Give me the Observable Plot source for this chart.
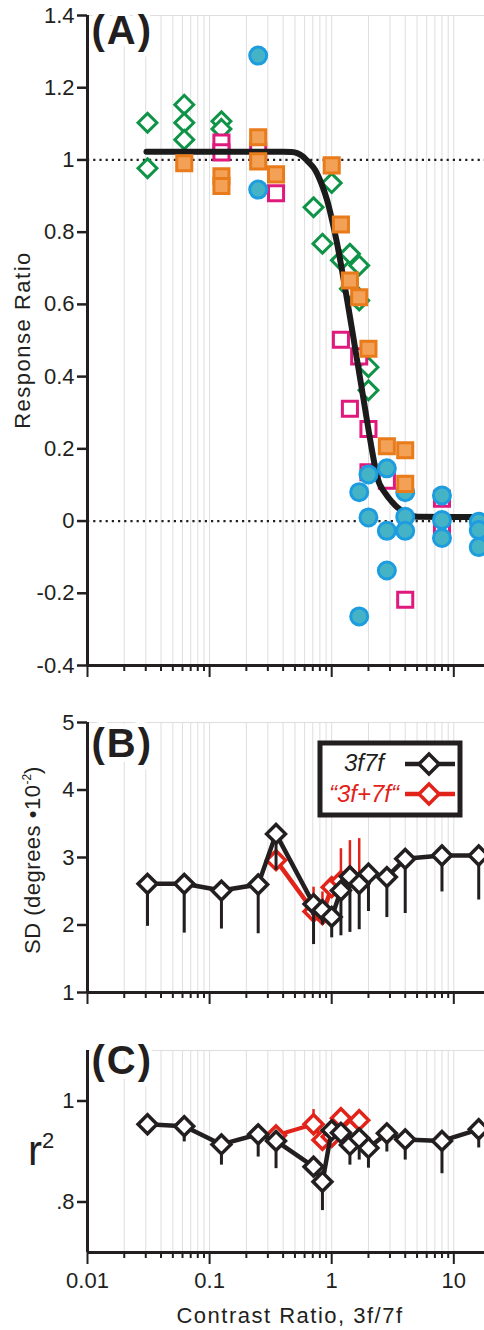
<!DOCTYPE html>
<html>
<head>
<meta charset="utf-8">
<script src="https://cdn.jsdelivr.net/npm/d3@7"></script>
<script src="https://cdn.jsdelivr.net/npm/@observablehq/plot@0.6"></script>
<style>
  body { margin: 0; background: #fff; }
  #wrap { position: relative; width: 484px; height: 1330px; overflow: hidden; background: #fff;
          font-family: "Liberation Sans", Arial, Helvetica, sans-serif; color: #231f20; }
  .panel { position: absolute; left: 0; }
  .panel svg { overflow: visible; }
  .panel g[font-size="40"] text { letter-spacing: 2px; }
  .lab { position: absolute; white-space: nowrap; font-size: 22px; letter-spacing: 1.5px; line-height: 1; }
  .rot { transform: translate(-50%, -50%) rotate(-90deg); }
  .sup { position: relative; letter-spacing: 0; }
</style>
</head>
<body>
<div id="wrap"></div>
<script>
// ---------------- Data ----------------
// Shared x-axis ticks (log scale)
const majorX = [0.01, 0.1, 1, 10];
const majorXLabels = ["0.01", "0.1", "1", "10"];
const minorX = [0.02,0.03,0.04,0.05,0.06,0.07,0.08,0.09,0.2,0.3,0.4,0.5,0.6,0.7,0.8,0.9,2,3,4,5,6,7,8,9];

// Panel A: response ratio
const yTicksA = [-0.4, -0.2, 0, 0.2, 0.4, 0.6, 0.8, 1, 1.2, 1.4];
const yLabelsA = ["-0.4", "-0.2", "0", "0.2", "0.4", "0.6", "0.8", "1", "1.2", "1.4"];
const refLinesA = [1, 0];

const greenX = [0.031, 0.031, 0.062, 0.062, 0.062, 0.125, 0.125, 0.71, 0.84, 1, 1.19, 1.41, 1.41, 1.68, 1.68, 2, 2];
const greenY = [1.103, 0.977, 1.153, 1.103, 1.056, 1.107, 1.086, 0.869, 0.768, 0.936, 0.722, 0.740, 0.643, 0.708, 0.611, 0.426, 0.362];

const orangeX = [0.062, 0.125, 0.125, 0.25, 0.25, 0.35, 1, 1.19, 1.41, 1.68, 2, 2.83, 4, 4];
const orangeY = [0.991, 0.955, 0.928, 1.063, 0.996, 0.960, 0.985, 0.821, 0.666, 0.620, 0.477, 0.207, 0.196, 0.103];

const magentaX = [0.125, 0.125, 0.25, 0.35, 1.19, 1.41, 1.68, 2, 2, 2.83, 4, 8, 8];
const magentaY = [1.048, 1.021, 1.025, 0.908, 0.502, 0.311, 0.456, 0.255, 0.135, 0.112, -0.218, 0.062, -0.016];

const blueX = [0.25, 0.25, 1.68, 1.68, 2, 2, 2.83, 2.83, 2.83, 4, 4, 4, 8, 8, 8, 16, 16, 16];
const blueY = [1.289, 0.918, 0.080, -0.264, 0.129, 0.010, 0.146, -0.027, -0.137, 0.080, 0.012, -0.027, 0.071, 0.003, -0.047, -0.002, -0.025, -0.072];

// fitted curve, points
const fitX = [0.0304, 0.40, 0.47, 0.521, 0.58, 0.629, 0.736, 0.836, 0.918, 1.009, 1.094, 1.34, 1.567, 1.83, 2.14, 2.36, 2.76, 3.1, 3.44, 4.15, 5.01, 15.9];
const fitY = [1.023, 1.023, 1.022, 1.019, 1.010, 0.998, 0.971, 0.929, 0.888, 0.832, 0.777, 0.611, 0.472, 0.334, 0.195, 0.121, 0.076, 0.054, 0.038, 0.020, 0.012, 0.011];

// Panel B: SD
const yTicksB = [1, 2, 3, 4, 5];
const yLabelsB = ["1", "2", "3", "4", "5"];
const bX   = [0.031, 0.062, 0.125, 0.25, 0.35, 0.71, 0.84, 1, 1.19, 1.41, 1.68, 2, 2.83, 4, 8, 16];
const bY   = [2.61, 2.61, 2.51, 2.60, 3.35, 2.31, 2.22, 2.12, 2.51, 2.72, 2.61, 2.76, 2.71, 2.98, 3.03, 3.03];
const bLo  = [1.98, 1.88, 1.94, 1.87, 2.81, 1.71, 2.0, 1.81, 1.84, 1.89, 1.93, 2.20, 2.11, 2.17, 2.49, 2.37];
const bRedX  = [0.35, 0.71, 0.84, 1, 1.19, 1.41, 1.68];
const bRedY  = [2.96, 2.20, 2.16, 2.56, 2.65, 2.72, 2.62];
const bRedHi = [3.0, 2.56, 2.49, 2.7, 3.13, 3.25, 3.28];

// Panel C: r^2
const yTicksC = [0.8, 1];
const yLabelsC = [".8", "1"];
const cY   = [0.954, 0.950, 0.914, 0.934, 0.921, 0.870, 0.840, 0.942, 0.937, 0.913, 0.926, 0.907, 0.936, 0.924, 0.921, 0.944];
const cLo  = [0.950, 0.919, 0.873, 0.889, 0.866, 0.850, 0.783, 0.930, 0.925, 0.873, 0.883, 0.867, 0.899, 0.883, 0.856, 0.907];
const cRedX  = [0.35, 0.71, 0.84, 1, 1.19, 1.41, 1.68];
const cRedY  = [0.932, 0.954, 0.923, 0.929, 0.966, 0.942, 0.962];
const cRedHi = [0.940, 0.983, 0.930, 0.935, 0.975, 0.950, 0.970];

// ---------------- Build ----------------
const INK = "#231f20";
const RED = "#e2231a";
const FONT = '"Liberation Sans", Arial, Helvetica, sans-serif';
const zip = (xs, ys, extra) => xs.map((x, i) => ({x, y: ys[i], e: extra ? extra[i] : undefined}));

const green = zip(greenX, greenY), orange = zip(orangeX, orangeY), magenta = zip(magentaX, magentaY), blue = zip(blueX, blueY);
const fit = zip(fitX, fitY);
const bBlack = zip(bX, bY, bLo), bRed = zip(bRedX, bRedY, bRedHi);
const cBlack = zip(bX, cY, cLo), cRed = zip(cRedX, cRedY, cRedHi);

function frameMarks(yDomain, yTicks, yLabels, showXLabels, label, labelDy) {
  return {
    back: [
      Plot.ruleX([...minorX, ...majorX.slice(1)], {stroke: "#dedede", strokeWidth: 1}),
      Plot.ruleY([yDomain[1]], {stroke: "#dedede", strokeWidth: 1.2}),
    ],
    front: [
      Plot.text([label], {frameAnchor: "top-left", dx: 4, dy: labelDy, lineAnchor: "top", textAnchor: "start",
        fontSize: 40, fontWeight: "bold", fill: INK, stroke: "white", strokeWidth: 10, fontFamily: FONT}),
      Plot.axisY({ticks: yTicks, tickFormat: d => yLabels[yTicks.indexOf(d)], tickSize: 10, tickPadding: 3,
        strokeWidth: 2.5, fontSize: 22, label: null}),
      Plot.axisX({ticks: minorX, tickSize: 6, tickFormat: () => "", strokeWidth: 2, label: null}),
      Plot.axisX({ticks: majorX, tickSize: 12, tickPadding: 8, strokeWidth: 2, fontSize: 22, label: null,
        tickFormat: showXLabels ? d => majorXLabels[majorX.indexOf(d)] : () => ""}),
      Plot.ruleX([0.01], {stroke: INK, strokeWidth: 3}),
      Plot.ruleY([yDomain[0]], {stroke: INK, strokeWidth: 3}),
    ]
  };
}

function makePlot({height, marginTop, marginBottom, yDomain, marks}) {
  return Plot.plot({
    width: 484, height, marginLeft: 87, marginRight: 0, marginTop, marginBottom,
    x: {type: "log", domain: [0.01, 17.84]},
    y: {domain: yDomain},
    style: {fontFamily: FONT, fontSize: "22px", color: INK, background: "transparent", overflow: "visible"},
    marks
  });
}

const wrap = document.getElementById("wrap");
function place(node, top) {
  const d = document.createElement("div");
  d.className = "panel"; d.style.top = top + "px";
  d.appendChild(node); wrap.appendChild(d);
}

// Panel A
{
  const yDomain = [-0.4, 1.4];
  const f = frameMarks(yDomain, yTicksA, yLabelsA, false, "(A)", 0);
  const sym = {r: 8.5, strokeWidth: 3};
  place(makePlot({height: 695, marginTop: 15, marginBottom: 30, yDomain, marks: [
    ...f.back,
    Plot.ruleY(refLinesA, {stroke: INK, strokeWidth: 2.2, strokeDasharray: "2.2,4"}),
    Plot.dot(green, {x: "x", y: "y", symbol: "diamond2", ...sym, stroke: "#0e9347", fill: "white"}),
    Plot.dot(magenta, {x: "x", y: "y", symbol: "square", ...sym, stroke: "#e0197d", fill: "white"}),
    Plot.line(fit, {x: "x", y: "y", stroke: "#1b1b1b", strokeWidth: 6, curve: "monotone-x"}),
    Plot.dot(blue, {x: "x", y: "y", symbol: "circle", ...sym, stroke: "#1d9ddf", fill: "#45b3c6"}),
    Plot.dot(orange, {x: "x", y: "y", symbol: "square", ...sym, stroke: "#e97b1b", fill: "#f2a157"}),
    ...f.front
  ]}), 0);
}

// Panel B
{
  const yDomain = [1, 5];
  const f = frameMarks(yDomain, yTicksB, yLabelsB, false, "(B)", 6);
  place(makePlot({height: 315, marginTop: 27, marginBottom: 18, yDomain, marks: [
    ...f.back,
    Plot.ruleX(bRed, {x: "x", y1: "y", y2: "e", stroke: RED, strokeWidth: 2.5}),
    Plot.line(bRed, {x: "x", y: "y", stroke: RED, strokeWidth: 4.5}),
    Plot.dot(bRed, {x: "x", y: "y", symbol: "diamond2", r: 8.5, stroke: RED, strokeWidth: 3.5, fill: "white"}),
    Plot.ruleX(bBlack, {x: "x", y1: "y", y2: "e", stroke: INK, strokeWidth: 3}),
    Plot.line(bBlack, {x: "x", y: "y", stroke: INK, strokeWidth: 4.5}),
    Plot.dot(bBlack, {x: "x", y: "y", symbol: "diamond2", r: 8.5, stroke: INK, strokeWidth: 3.5, fill: "white"}),
    ...f.front
  ]}), 695);
}

// Panel C
{
  const yDomain = [0.7, 1.1];
  const f = frameMarks(yDomain, yTicksC, yLabelsC, true, "(C)", -5);
  place(makePlot({height: 320, marginTop: 40, marginBottom: 78, yDomain, marks: [
    ...f.back,
    Plot.ruleX(cRed, {x: "x", y1: "y", y2: "e", stroke: RED, strokeWidth: 2.5}),
    Plot.line(cRed, {x: "x", y: "y", stroke: RED, strokeWidth: 4}),
    Plot.dot(cRed, {x: "x", y: "y", symbol: "diamond2", r: 8.5, stroke: RED, strokeWidth: 3.5, fill: "white"}),
    Plot.ruleX(cBlack, {x: "x", y1: "y", y2: "e", stroke: INK, strokeWidth: 3}),
    Plot.line(cBlack, {x: "x", y: "y", stroke: INK, strokeWidth: 4.5}),
    Plot.dot(cBlack, {x: "x", y: "y", symbol: "diamond2", r: 8.5, stroke: INK, strokeWidth: 3.5, fill: "white"}),
    ...f.front
  ]}), 1010);
}

// Axis titles
function addLabel(html, cls, styles) {
  const d = document.createElement("div");
  d.className = "lab " + cls; d.innerHTML = html;
  Object.assign(d.style, styles); wrap.appendChild(d);
  return d;
}
addLabel("Response Ratio", "rot", {left: "23px", top: "340px"});
addLabel('SD (degrees •10<span class="sup" style="font-size:12px;top:-9px">-2</span>)', "rot", {left: "33px", top: "860px", letterSpacing: "0.5px"});
addLabel('r<span class="sup" style="font-size:22px;top:-17px">2</span>', "", {left: "28px", top: "1130px", fontSize: "42px", letterSpacing: "0"});
addLabel("Contrast Ratio, 3f/7f", "", {left: "290px", top: "1305px", transform: "translateX(-50%)"});

// Legend (panel B)
const lg = `
<svg xmlns="http://www.w3.org/2000/svg" width="146" height="78" style="position:absolute;left:317px;top:740px;overflow:visible">
  <rect x="3" y="3" width="140" height="72" fill="white" stroke="${INK}" stroke-width="5"/>
  <text x="27" y="31" font-family='${FONT}' font-style="italic" font-size="24" fill="${INK}">3f7f</text>
  <line x1="88" y1="24" x2="138" y2="24" stroke="${INK}" stroke-width="4.5"/>
  <polygon points="112,14 122,24 112,34 102,24" fill="white" stroke="${INK}" stroke-width="3.5"/>
  <text x="12" y="62" font-family='${FONT}' font-style="italic" font-size="24" fill="${RED}">“3f+7f“</text>
  <line x1="88" y1="54" x2="138" y2="54" stroke="${RED}" stroke-width="4.5"/>
  <polygon points="112,44 122,54 112,64 102,54" fill="white" stroke="${RED}" stroke-width="3.5"/>
</svg>`;
wrap.insertAdjacentHTML("beforeend", lg);
</script>
</body>
</html>
